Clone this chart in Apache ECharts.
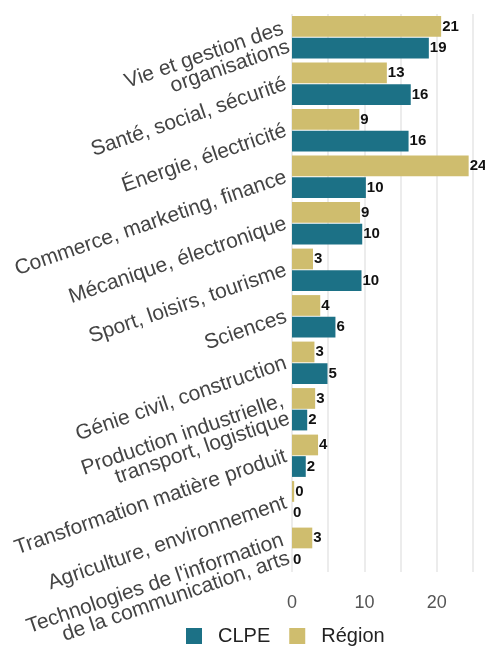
<!DOCTYPE html>
<html>
<head>
<meta charset="utf-8">
<script src="https://cdn.jsdelivr.net/npm/echarts@6/dist/echarts.min.js"></script>
<style>
  html, body { margin: 0; padding: 0; background: #fff; }
  #chart { width: 485px; height: 648px; }
</style>
</head>
<body>
<div id="chart"></div>
<script>
  // secteurs (de haut en bas)
  var categories = [
    'Vie et gestion des\norganisations',
    'Santé, social, sécurité',
    'Énergie, électricité',
    'Commerce, marketing, finance',
    'Mécanique, électronique',
    'Sport, loisirs, tourisme',
    'Sciences',
    'Génie civil, construction',
    'Production industrielle,\ntransport, logistique',
    'Transformation matière produit',
    'Agriculture, environnement',
    "Technologies de l'information\nde la communication, arts"
  ];
  // parts en % (les étiquettes sont arrondies)
  var regionValues = [20.6, 13.1, 9.3, 24.4, 9.4, 2.9, 3.9, 3.1, 3.2, 3.6, 0.3, 2.8];
  var clpeValues = [18.9, 16.4, 16.1, 10.2, 9.7, 9.6, 6.0, 4.9, 2.1, 1.9, 0, 0];
  var xTicks = [0, 10, 20];

  var chart = echarts.init(document.getElementById('chart'));

  var labelStyle = {
    show: true,
    position: 'right',
    distance: 1,
    fontFamily: 'Liberation Sans',
    fontWeight: 'bold',
    fontSize: 15,
    color: '#111',
    formatter: function (p) { return Math.round(p.value); }
  };

  var option = {
    animation: false,
    textStyle: { fontFamily: 'Liberation Sans' },
    legend: {
      data: ['CLPE', 'Région'],
      left: 181,
      bottom: -3,
      itemWidth: 16,
      itemHeight: 16,
      itemGap: 19,
      icon: 'rect',
      textStyle: { fontSize: 20, color: '#222', padding: [0, 0, 0, 11] }
    },
    grid: { left: 292, right: 12, top: 14, bottom: 76, outerBoundsMode: 'none' },
    xAxis: {
      type: 'value',
      min: 0,
      max: 25,
      interval: 5,
      axisLine: { show: false },
      axisTick: { show: false },
      splitLine: { lineStyle: { color: '#e6e6e6', width: 1.5 } },
      axisLabel: {
        fontSize: 18,
        color: '#555',
        margin: 22,
        formatter: function (v) { return xTicks.indexOf(v) >= 0 ? v : ''; }
      }
    },
    yAxis: {
      type: 'category',
      inverse: true,
      data: categories,
      axisLine: { show: false },
      axisTick: { show: false },
      axisLabel: {
        rotate: 19,
        margin: 6,
        fontSize: 21,
        lineHeight: 19,
        color: '#444',
        interval: 0
      }
    },
    series: [
      {
        name: 'Région',
        type: 'bar',
        data: regionValues,
        itemStyle: { color: '#cfbd6e' },
        barGap: '4%',
        barCategoryGap: '9%',
        label: labelStyle
      },
      {
        name: 'CLPE',
        type: 'bar',
        data: clpeValues,
        itemStyle: { color: '#1c7186' },
        label: labelStyle
      }
    ]
  };

  chart.setOption(option);
</script>
</body>
</html>
